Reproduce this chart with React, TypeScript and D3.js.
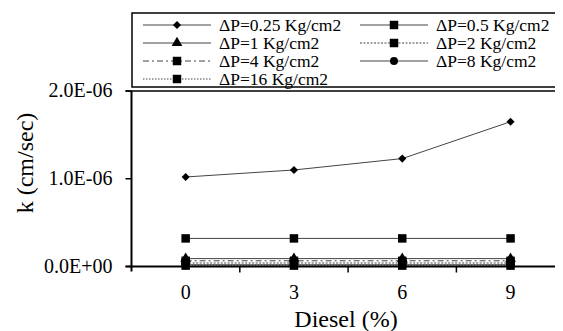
import React from 'react';
import * as d3 from 'd3';

// diesel content (%)
const diesel = ['0', '3', '6', '9'];

// permeability k (cm/sec) for each pressure
const k025 = [1.02e-6, 1.1e-6, 1.23e-6, 1.65e-6];
const k05 = [0.32e-6, 0.32e-6, 0.32e-6, 0.32e-6];
const k1 = [0.09e-6, 0.09e-6, 0.09e-6, 0.09e-6];
const k2 = [0.04e-6, 0.04e-6, 0.04e-6, 0.04e-6];
const k4 = [0.065e-6, 0.065e-6, 0.065e-6, 0.065e-6];
const k8 = [0.02e-6, 0.02e-6, 0.02e-6, 0.02e-6];
const k16 = [0.01e-6, 0.01e-6, 0.01e-6, 0.01e-6];

const yTicks = [0, 1e-6, 2e-6];
const yTickLabels = ['0.0E+00', '1.0E-06', '2.0E-06'];

const series = [
  { name: 'ΔP=0.25 Kg/cm2', values: k025, marker: 'diamond', dash: undefined },
  { name: 'ΔP=0.5 Kg/cm2', values: k05, marker: 'square', dash: undefined },
  { name: 'ΔP=1 Kg/cm2', values: k1, marker: 'triangle', dash: undefined },
  { name: 'ΔP=2 Kg/cm2', values: k2, marker: 'square', dash: '2,1.5' },
  { name: 'ΔP=4 Kg/cm2', values: k4, marker: 'square', dash: '6,3,2,3' },
  { name: 'ΔP=8 Kg/cm2', values: k8, marker: 'circle', dash: undefined },
  { name: 'ΔP=16 Kg/cm2', values: k16, marker: 'square', dash: '1.5,1.5' },
];

const symbolFor = (m: string) => {
  if (m === 'diamond') return d3.symbol().type(d3.symbolDiamond2).size(42)() as string;
  if (m === 'triangle') return d3.symbol().type(d3.symbolTriangle).size(50)() as string;
  if (m === 'circle') return d3.symbol().type(d3.symbolCircle).size(50)() as string;
  return d3.symbol().type(d3.symbolSquare).size(72)() as string;
};

const width = 563;
const height = 331;
const left = 123.5;
const right = 556.7;
const top = 83;
const bottom = 258.5;

const x = d3.scaleBand().domain(diesel).range([left, right]);
const y = d3.scaleLinear().domain([0, 2e-6]).range([bottom, top]);
const cx = (d: string) => (x(d) as number) + x.bandwidth() / 2;

const line = d3.line<number>()
  .x((_, i) => cx(diesel[i]))
  .y(d => y(d));

const colX = [135, 352];
const rowY = [17, 35, 53, 71];

const tickFont = { fontFamily: 'Liberation Serif', fontSize: 20 };
const titleFont = { fontFamily: 'Liberation Serif', fontSize: 24 };
const legendFont = { fontFamily: 'Liberation Serif', fontSize: 17.5 };

// the body keeps its 8px margin, so everything is drawn 8px up-left
export default function App() {
  const drawOrder = series.slice().reverse();
  return (
    <svg width={width - 8} height={height - 8}>
      {/* top border of plot */}
      <line x1={left - 6} x2={width} y1={y(2e-6)} y2={y(2e-6)} stroke="black" strokeWidth={1.5} />

      {/* series */}
      {drawOrder.map(s => (
        <path key={s.name} d={line(s.values) as string} fill="none" stroke="#444"
          strokeWidth={1} strokeDasharray={s.dash} />
      ))}
      {drawOrder.map(s => (
        <g key={s.name + 'm'}>
          {s.values.map((v, i) => (
            <path key={i} d={symbolFor(s.marker)} transform={`translate(${cx(diesel[i])},${y(v)})`} fill="black" />
          ))}
        </g>
      ))}

      {/* y axis */}
      {yTicks.map((t, i) => (
        <g key={t} transform={`translate(0,${y(t)})`}>
          <line x1={left - 6} x2={left} stroke="black" strokeWidth={1.5} />
          <text x={left - 19} dy="0.32em" textAnchor="end" style={tickFont}>{yTickLabels[i]}</text>
        </g>
      ))}
      <line x1={left} x2={left} y1={top} y2={bottom + 5} stroke="black" strokeWidth={2} />

      {/* x axis */}
      <line x1={left - 6} x2={width} y1={bottom} y2={bottom} stroke="black" strokeWidth={2} />
      {diesel.slice(1).map(d => (
        <line key={d} x1={x(d)} x2={x(d)} y1={bottom} y2={bottom + 6} stroke="black" strokeWidth={1.5} />
      ))}
      {diesel.map(d => (
        <text key={d} x={cx(d)} y={bottom + 32} textAnchor="middle" style={tickFont}>{d}</text>
      ))}

      {/* axis titles */}
      <text x={338} y={319} textAnchor="middle" style={titleFont}>Diesel (%)</text>
      <text transform="translate(25,155) rotate(-90)" textAnchor="middle" style={titleFont}>k (cm/sec)</text>

      {/* legend */}
      <rect x={124} y={5} width={440} height={74} fill="white" stroke="black" strokeWidth={1.5} />
      {series.map((s, i) => (
        <g key={s.name} transform={`translate(${colX[i % 2]},${rowY[Math.floor(i / 2)]})`}>
          <line x1={0} x2={68} stroke="#444" strokeWidth={1} strokeDasharray={s.dash} />
          <path d={symbolFor(s.marker)} transform="translate(34,0)" fill="black" />
          <text x={76} y={6} style={legendFont}>{s.name}</text>
        </g>
      ))}
    </svg>
  );
}
